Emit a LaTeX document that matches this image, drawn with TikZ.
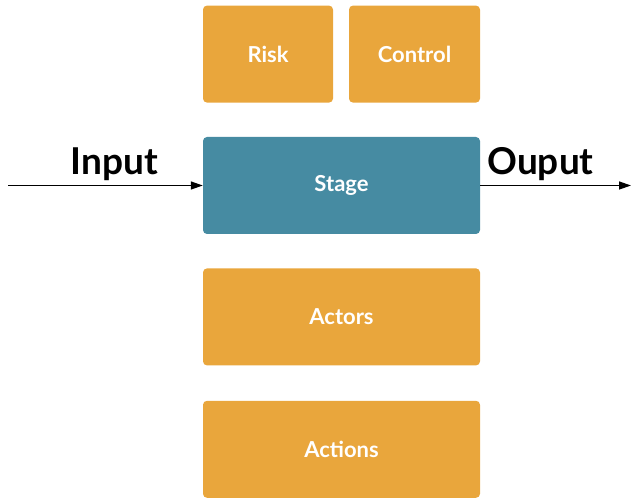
\documentclass[tikz,border=0pt]{standalone}
\usepackage{fontspec}
\setmainfont{Lato}
\usetikzlibrary{arrows.meta,positioning}
\definecolor{boxorange}{HTML}{E9A63C}
\definecolor{stageteal}{HTML}{468BA2}

\begin{document}
\begin{tikzpicture}[x=1pt, y=1pt, node distance=34pt, block/.style = {rectangle,
			fill=boxorange, rounded corners=4pt, minimum width=277pt, minimum
			height=97pt, inner sep=0pt, text=white,
			font=\bfseries\fontsize{22}{22}\selectfont}, smallblock/.style =
		{block, minimum width=130pt}, arrow/.style = {-{Triangle[length=12pt,
				width=8pt]}, line width=1.3pt}, flowlabel/.style = {anchor=base,
			yshift=11pt, font=\bfseries\fontsize{37}{37}\selectfont}
	]
	\useasboundingbox (0,0) rectangle (631,498);

	% Nodes
	\node [block, fill=stageteal] (S) at (341.5,312.5) {Stage};
	\node [block, below=of S] (AC) {Actors};
	\node [block, below=35pt of AC] (AN) {Actions};
	\node [smallblock, above=of S.north west, anchor=south west] (R) {Risk};
	\node [smallblock, minimum width=131pt, above=of S.north east,
		anchor=south east] (C) {Control};

	% Arrows
	\coordinate (IN) at (8,312.5);
	\coordinate (OUT) at (631,312.5);
	\draw [arrow] (IN) -- (S.west) node[flowlabel, pos=0.545] {Input};
	\draw [arrow] (S.east) -- (OUT) node[flowlabel, pos=0.4] {Ouput};
\end{tikzpicture}
\end{document}
